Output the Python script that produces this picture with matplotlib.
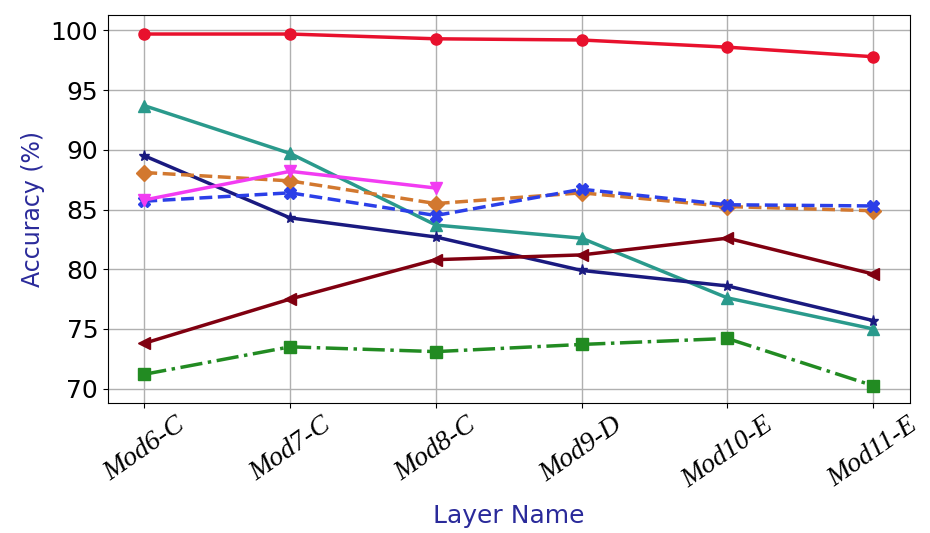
import matplotlib.pyplot as plt

layers = ["Mod6-C", "Mod7-C", "Mod8-C", "Mod9-D", "Mod10-E", "Mod11-E"]

red_acc = [99.7, 99.7, 99.3, 99.2, 98.6, 97.8]
teal_acc = [93.7, 89.7, 83.7, 82.6, 77.6, 75.0]
navy_acc = [89.5, 84.3, 82.7, 79.9, 78.6, 75.7]
orange_acc = [88.1, 87.4, 85.5, 86.4, 85.25, 84.9]
blue_acc = [85.7, 86.4, 84.5, 86.7, 85.4, 85.3]
magenta_acc = [85.8, 88.2, 86.8]
maroon_acc = [73.8, 77.5, 80.8, 81.2, 82.6, 79.6]
green_acc = [71.2, 73.5, 73.1, 73.7, 74.2, 70.25]

x = list(range(len(layers)))

fig = plt.figure(figsize=(9.3, 5.33), dpi=100)
ax = fig.add_axes([0.116, 0.244, 0.862, 0.728])

ax.plot(x, red_acc, 'o-', color='#e8112d', lw=2.5, ms=8)
ax.plot(x, teal_acc, '^-', color='#2a9a8c', lw=2.5, ms=8)
ax.plot(x, navy_acc, '*-', color='#1a1a80', lw=2.5, ms=8)
ax.plot(x, orange_acc, 'D--', color='#d2782f', lw=2.5, ms=8)
ax.plot(x, blue_acc, 'X--', color='#2b3fe8', lw=2.5, ms=8)
ax.plot(x[:len(magenta_acc)], magenta_acc, 'v-', color='#f23cf2', lw=2.5, ms=8)
ax.plot(x, maroon_acc, '<-', color='#800010', lw=2.5, ms=8)
ax.plot(x, green_acc, 's-.', color='#228b22', lw=2.5, ms=8)

ax.set_xlim(-0.25, 5.25)
ax.set_ylim(68.8, 101.3)
ax.set_yticks([70, 75, 80, 85, 90, 95, 100])
ax.set_xticks(x)
ax.set_xticklabels(layers, rotation=35, fontsize=20, family='Liberation Serif', style='italic')
ax.tick_params(axis='y', labelsize=18)
ax.grid(True, color='#b0b0b0', linewidth=1)

ax.set_ylabel("Accuracy (%)", fontsize=17, color='#2a2a9a')
ax.set_xlabel("Layer Name", fontsize=18, color='#2a2a9a', labelpad=8)

plt.savefig("out.png", dpi=100)
